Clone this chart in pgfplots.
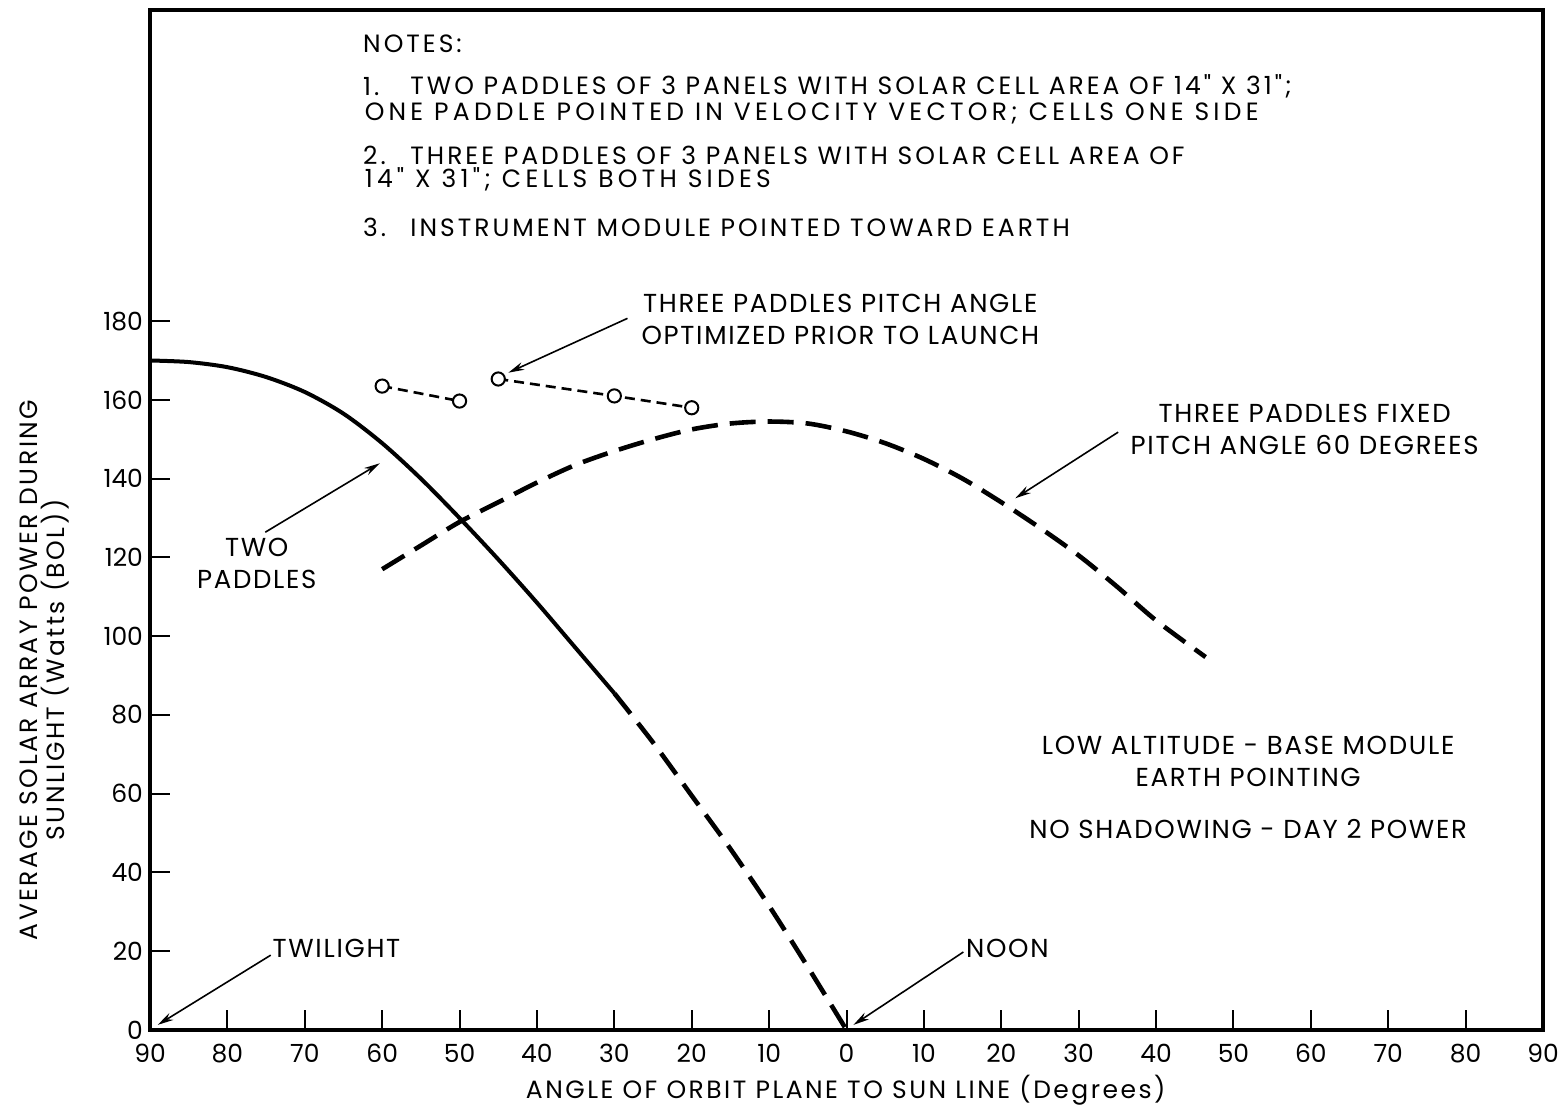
\documentclass[border=0pt]{standalone}
\usepackage{fontspec}
\setmainfont{Poppins}
\newfontfamily\notesfont[LetterSpace=12]{Poppins}
\newfontfamily\notesfontw[LetterSpace=17]{Poppins}
\newfontfamily\annfont[LetterSpace=6.5]{Poppins}
\newfontfamily\labfont[LetterSpace=10]{Poppins}
\usepackage{pgfplots}
\pgfplotsset{compat=1.18}
\usetikzlibrary{arrows.meta}

\begin{document}
\begin{tikzpicture}
\useasboundingbox (-75pt,-41.5pt) rectangle (704.5pt,515pt);
\begin{axis}[
  at={(0pt,0pt)}, anchor=south west,
  scale only axis, width=696.5pt, height=510pt,
  xmin=-90, xmax=90, ymin=0, ymax=259,
  axis line style={line width=1.6pt},
  xtick={-90,-80,...,90},
  xticklabels={90,80,70,60,50,40,30,20,10,0,10,20,30,40,50,60,70,80,90},
  ytick={0,20,...,180},
  xtick pos=bottom, ytick pos=left,
  tick align=inside,
  major tick length=10pt,
  tick style={line width=1pt, black},
  ticklabel style={font=\fontsize{12.5}{14}\selectfont},
  xticklabel style={yshift=-3.5pt},
  /pgf/number format/assume math mode=true,
  clip=false,
]
% Two paddles (solid part)
\addplot[line width=2pt, smooth] coordinates {
(-90,170) (-85,169.6) (-80,168.3) (-75,165.8) (-70,162) (-65,156.5) (-60,149) (-55,140) (-50,130) (-45,119.5) (-40,108.5) (-35,97) (-30,85.5)};
% Two paddles (dashed part)
\addplot[line width=2.3pt, dash pattern=on 13pt off 6pt, smooth] coordinates {
(-30,85.5) (-25,73) (-20,59.5) (-15,46) (-10,31.5) (-5,16) (0,0)};
% Three paddles fixed pitch 60 deg
\addplot[line width=2.3pt, dash pattern=on 13pt off 6pt, smooth] coordinates {
(-60,117) (-55,123) (-50,129) (-45,134) (-40,139) (-35,143.5) (-30,147) (-25,150) (-20,152.5) (-15,154) (-10,154.5) (-5,154) (0,152) (5,149) (10,145) (15,140) (20,134) (25,127.5) (30,120.5) (35,112.5) (40,104) (46.4,94.7)};
% Three paddles optimized
\addplot[line width=1.3pt, dash pattern=on 5pt off 3pt, mark=*, mark size=3.3pt,
  mark options={solid, fill=white, draw=black, line width=1pt}] coordinates {
(-60,163.5) (-50,159.7)};
\addplot[line width=1.3pt, dash pattern=on 5pt off 3pt, mark=*, mark size=3.3pt,
  mark options={solid, fill=white, draw=black, line width=1pt}] coordinates {
(-45,165.3) (-30,161) (-20,158)};

% Notes
\begin{scope}[every node/.style={font=\notesfont\fontsize{12.5}{14}\selectfont, inner sep=0pt}]
\node[anchor=west] at (axis cs:-62.5,250.3) {NOTES:};
\node[anchor=west] at (axis cs:-62.5,239.6) {1.};
\node[anchor=west] at (axis cs:-56.4,239.6) {TWO PADDLES OF 3 PANELS WITH SOLAR CELL AREA OF 14" X 31";};
\node[anchor=west, font=\notesfontw\fontsize{12.5}{14}\selectfont] at (axis cs:-62.3,232.7) {ONE PADDLE POINTED IN VELOCITY VECTOR; CELLS ONE SIDE};
\node[anchor=west] at (axis cs:-62.5,222.1) {2.};
\node[anchor=west] at (axis cs:-56.4,222.1) {THREE PADDLES OF 3 PANELS WITH SOLAR CELL AREA OF};
\node[anchor=west, font=\notesfontw\fontsize{12.5}{14}\selectfont] at (axis cs:-62.3,216.0) {14" X 31"; CELLS BOTH SIDES};
\node[anchor=west] at (axis cs:-62.5,203.8) {3.};
\node[anchor=west] at (axis cs:-56.4,203.8) {INSTRUMENT MODULE POINTED TOWARD EARTH};
\end{scope}

\begin{scope}[every node/.style={font=\annfont\fontsize{13}{15}\selectfont, inner sep=0pt, align=center}]
\node at (axis cs:-0.8,180.5) {THREE PADDLES PITCH ANGLE\\[1pt]OPTIMIZED PRIOR TO LAUNCH};
\node at (axis cs:-76.2,118.5) {TWO\\[1pt]PADDLES};
\node at (axis cs:59.2,152.4) {THREE PADDLES FIXED\\[1pt]PITCH ANGLE 60 DEGREES};
\node at (axis cs:51.9,68.2) {LOW ALTITUDE - BASE MODULE\\[1pt]EARTH POINTING};
\node at (axis cs:51.9,51.0) {NO SHADOWING - DAY 2 POWER};
\node[anchor=west] at (axis cs:-74.2,20.8) {TWILIGHT};
\node[anchor=west] at (axis cs:15.4,20.8) {NOON};
\end{scope}

\begin{scope}[-{Stealth[length=8pt,width=4pt]}, line width=0.8pt]
\draw (axis cs:-28.3,180.7) -- (axis cs:-43.7,166.9);
\draw (axis cs:-75.1,126.4) -- (axis cs:-60.3,143.9);
\draw (axis cs:35.1,151.8) -- (axis cs:21.8,135);
\draw (axis cs:-74.4,19) -- (axis cs:-89.0,1.3);
\draw (axis cs:15.1,19.8) -- (axis cs:0.9,1.3);
\end{scope}

% Axis labels
\node[font=\labfont\fontsize{12.5}{14}\selectfont, inner sep=0pt] at (axis cs:-0.1,-15.2) {ANGLE OF ORBIT PLANE TO SUN LINE (Degrees)};
\node[font=\labfont\fontsize{12.5}{14}\selectfont, inner sep=0pt, rotate=90, anchor=base] at (axis cs:-104.6,91.4) {AVERAGE SOLAR ARRAY POWER DURING};
\node[font=\labfont\fontsize{12.5}{14}\selectfont, inner sep=0pt, rotate=90, anchor=base] at (axis cs:-101.1,91.4) {SUNLIGHT (Watts (BOL))};
\end{axis}
\end{tikzpicture}
\end{document}
